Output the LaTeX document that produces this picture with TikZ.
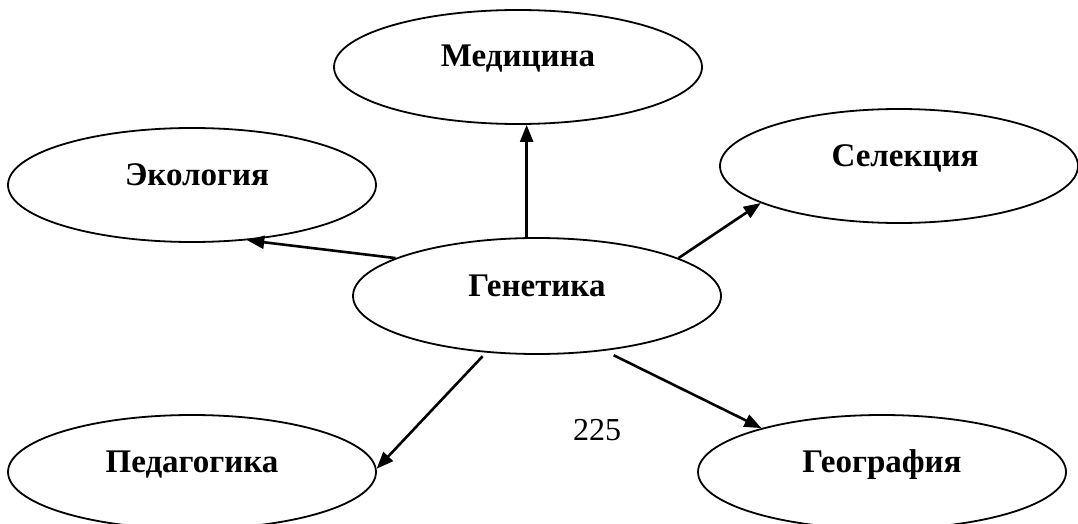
\documentclass[tikz,border=0pt]{standalone}
\usepackage{fontspec}
\setmainfont{Liberation Serif}
\usetikzlibrary{shapes.geometric,arrows.meta}
\begin{document}
\begin{tikzpicture}[x=1pt,y=-1pt,
  field/.style={draw,ellipse,line width=1.8pt,minimum width=368pt,minimum height=114pt,inner sep=0pt},
  lbl/.style={anchor=base,font=\fontsize{33}{39}\selectfont\bfseries,inner sep=0pt},
  link/.style={line width=2.6pt,-{Triangle[length=17pt,width=13pt]}}]
\useasboundingbox (0,0) rectangle (1078,524);

% ellipses
\node[field] (med) at (518,67) {};
\node[field] (eco) at (192,185) {};
\node[field,minimum width=358pt] (sel) at (899,166) {};
\node[field,minimum height=116pt] (gen) at (537,296) {};
\node[field] (ped) at (192,472) {};
\node[field] (geo) at (882,472) {};

% titles
\node[lbl] (medT) at (med.center) {Медицина};
\node[lbl,xshift=5pt] (ecoT) at (eco.center) {Экология};
\node[lbl,xshift=6pt] (selT) at (sel.center) {Селекция};
\node[lbl] (genT) at (gen.center) {Генетика};
\node[lbl] (pedT) at (ped.center) {Педагогика};
\node[lbl] (geoT) at (geo.center) {География};

% page number
\node[anchor=center,font=\fontsize{32}{37}\selectfont,inner sep=0pt] (page) at (597,430) {225};

% connectors
\draw[link] (gen.100) -- (gen.100 |- med.south);
\draw[link] (gen.165) -- (eco.-45);
\draw[link] (gen.15) -- (sel.195);
\draw[link,shorten <=5pt] (gen.228) -- (ped.1);
\draw[link,shorten <=10pt] (gen.-39) -- (geo.160);
\end{tikzpicture}
\end{document}
